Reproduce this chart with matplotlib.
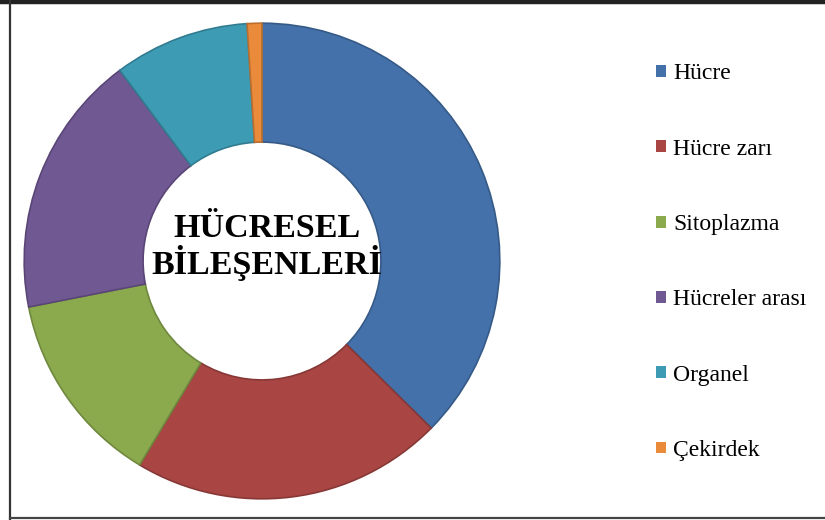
import matplotlib
matplotlib.use("Agg")
import matplotlib.pyplot as plt
from matplotlib.lines import Line2D
from matplotlib.colors import to_rgb

labels = ["Hücre", "Hücre zarı", "Sitoplazma", "Hücreler arası", "Organel", "Çekirdek"]
values = [37.4, 21.2, 13.3, 17.9, 9.2, 1.0]
colors = ["#4471A9", "#A94644", "#8BAA4D", "#705893", "#3D9BB4", "#E98B3B"]
center_title = "HÜCRESEL\nBİLEŞENLERİ"

W, H = 825, 520
fig = plt.figure(figsize=(W / 100, H / 100), dpi=100)
fig.patch.set_facecolor("white")

cx, cy, r = 262, 261, 239
ax = fig.add_axes([(cx - r) / W, (H - cy - r) / H, 2 * r / W, 2 * r / H])
ax.axis("off")

edge = [tuple(c * 0.8 for c in to_rgb(col)) for col in colors]
wedges, _ = ax.pie(values, colors=colors, startangle=90, counterclock=False,
                   radius=1.0, wedgeprops=dict(width=0.5, linewidth=1.2),
                   frame=False)
for w, e in zip(wedges, edge):
    w.set_edgecolor(e)
ax.set_aspect("equal")
ax.set_xlim(-1.005, 1.005)
ax.set_ylim(-1.005, 1.005)

ax.text(0.02, 0.06, center_title, ha="center", va="center", family="Liberation Serif",
        fontweight="bold", fontsize=24.5, linespacing=1.05, color="black")

leg = fig.legend(wedges, labels, loc="upper left", bbox_to_anchor=(647 / W, 1 - 54 / H),
                 frameon=False, prop=dict(family="Liberation Serif", size=17),
                 handlelength=0.4, handleheight=0.4, handletextpad=0.3,
                 labelspacing=2.30, borderaxespad=0)
for h in leg.legend_handles:
    h.set_linewidth(0)

# frame lines around the chart area
fig.add_artist(Line2D([0, 1], [1 - 2 / H, 1 - 2 / H], transform=fig.transFigure,
                      color="#222222", linewidth=3.2))
fig.add_artist(Line2D([10 / W, 10 / W], [0, 1], transform=fig.transFigure,
                      color="#333333", linewidth=1.6))
fig.add_artist(Line2D([10 / W, 1], [2 / H, 2 / H], transform=fig.transFigure,
                      color="#444444", linewidth=1.6))

fig.savefig("out.png", dpi=100, facecolor="white")
